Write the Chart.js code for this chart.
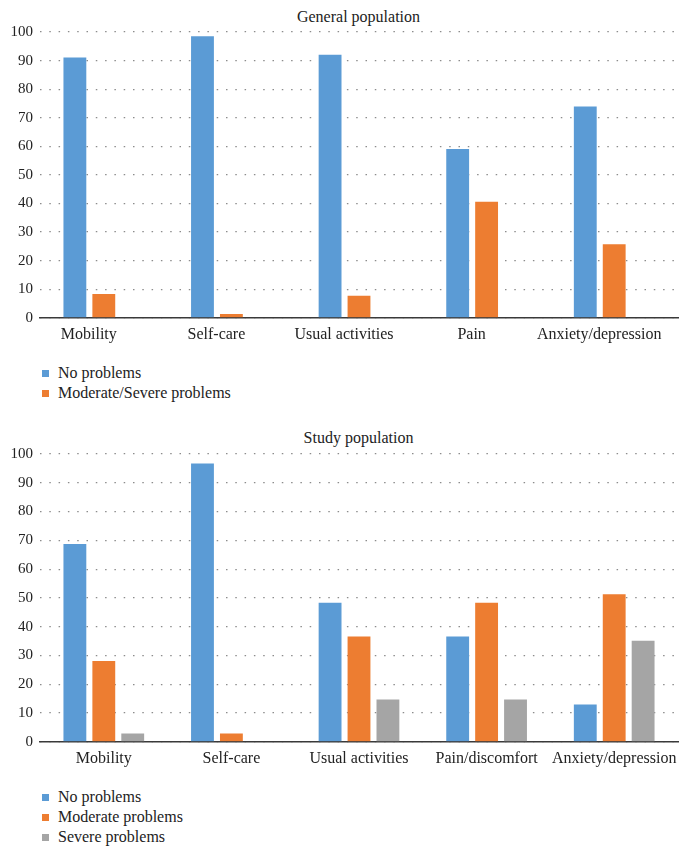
<!DOCTYPE html>
<html>
<head>
<meta charset="utf-8">
<script src="https://cdn.jsdelivr.net/npm/chart.js@4"></script>
<style>
  body { margin: 0; background: #fff; font-family: "Liberation Serif", serif; color: #222; }
  .wrap { position: relative; width: 688px; height: 856px; }
  canvas { position: absolute; left: 0; }
  .title { position: absolute; left: 39px; width: 639px; text-align: center; font-size: 16px; line-height: 20px; }
  .legend { position: absolute; left: 42px; font-size: 16px; line-height: 20px; }
  .legend div { display: flex; align-items: center; }
  .legend span.sw { display: inline-block; width: 7px; height: 7px; margin-right: 9px; }
</style>
</head>
<body>
<div class="wrap">
  <div class="title" style="top:7px">General population</div>
  <canvas id="generalChart" width="688" height="358" style="top:0"></canvas>
  <div class="legend" id="generalLegend" style="top:363px"></div>

  <div class="title" style="top:428px">Study population</div>
  <canvas id="studyChart" width="688" height="361" style="top:420px"></canvas>
  <div class="legend" id="studyLegend" style="top:787px"></div>
</div>
<script>
const generalCategories = ['Mobility', 'Self-care', 'Usual activities', 'Pain', 'Anxiety/depression'];
const generalNoProblems = [91.1, 98.5, 92.0, 59.1, 73.9];
const generalModSevere = [8.3, 1.3, 7.7, 40.6, 25.7];
const generalUnused = [null, null, null, null, null];

const studyCategories = ['Mobility', 'Self-care', 'Usual activities', 'Pain/discomfort', 'Anxiety/depression'];
const studyNoProblems = [68.7, 96.7, 48.3, 36.6, 13.0];
const studyModerate = [28.1, 2.9, 36.6, 48.3, 51.3];
const studySevere = [2.9, 0, 14.7, 14.7, 35.1];

const yTicks = [0, 10, 20, 30, 40, 50, 60, 70, 80, 90, 100];

const BLUE = '#5b9bd5', ORANGE = '#ed7d31', GRAY = '#a5a5a5';

function makeOptions(padTop, padBottom, labelOffset) {
    return {
        responsive: false,
        animation: false,
        layout: { padding: { top: padTop, bottom: padBottom, left: 3.5, right: 10 } },
        plugins: { legend: { display: false }, title: { display: false }, tooltip: { enabled: false } },
        datasets: { bar: { categoryPercentage: 0.68, barPercentage: 0.79 } },
        scales: {
            x: {
                grid: { display: false, drawTicks: false },
                border: { display: true, color: '#3a3a3a', width: 1.5 },
                ticks: { color: '#222', padding: 7, labelOffset: labelOffset, maxRotation: 0, autoSkip: false,
                    font: { family: 'Liberation Serif', size: 16 } }
            },
            y: {
                min: 0, max: 100,
                afterBuildTicks: (axis) => { axis.ticks = yTicks.map(v => ({ value: v })); },
                grid: { color: '#8c8c8c', lineWidth: 1.2, drawTicks: false },
                border: { display: false, dash: [1.5, 7.8] },
                ticks: { color: '#222', padding: 7, font: { family: 'Liberation Serif', size: 15 } }
            }
        }
    };
}

function buildLegend(id, items) {
    const el = document.getElementById(id);
    items.forEach(it => {
        const row = document.createElement('div');
        row.innerHTML = `<span class="sw" style="background:${it.color}"></span>${it.label}`;
        el.appendChild(row);
    });
}

new Chart(document.getElementById('generalChart'), {
    type: 'bar',
    data: {
        labels: generalCategories,
        datasets: [
            { label: 'No problems', data: generalNoProblems, backgroundColor: BLUE },
            { label: 'Moderate/Severe problems', data: generalModSevere, backgroundColor: ORANGE },
            { label: '', data: generalUnused, backgroundColor: 'rgba(0,0,0,0)' }
        ]
    },
    options: makeOptions(32, 7, -15)
});
buildLegend('generalLegend', [
    { label: 'No problems', color: BLUE },
    { label: 'Moderate/Severe problems', color: ORANGE }
]);

new Chart(document.getElementById('studyChart'), {
    type: 'bar',
    data: {
        labels: studyCategories,
        datasets: [
            { label: 'No problems', data: studyNoProblems, backgroundColor: BLUE },
            { label: 'Moderate problems', data: studyModerate, backgroundColor: ORANGE },
            { label: 'Severe problems', data: studySevere, backgroundColor: GRAY }
        ]
    },
    options: makeOptions(34, 6, 0)
});
buildLegend('studyLegend', [
    { label: 'No problems', color: BLUE },
    { label: 'Moderate problems', color: ORANGE },
    { label: 'Severe problems', color: GRAY }
]);
</script>
</body>
</html>
